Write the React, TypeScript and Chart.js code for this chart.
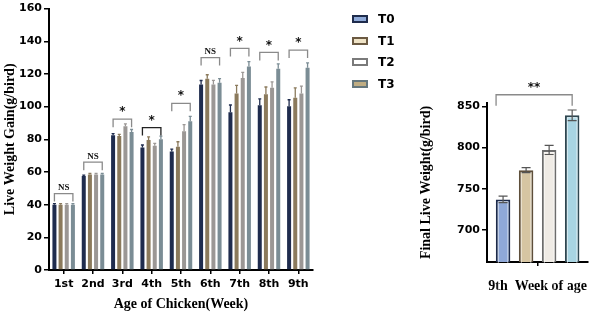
import React, { useEffect, useRef } from "react";
import { Chart, registerables } from "chart.js";

Chart.register(...registerables);

// Weekly live weight gain (g/bird) per treatment
const weeks = ["1st", "2nd", "3rd", "4th", "5th", "6th", "7th", "8th", "9th"];
const groups = ["T0", "T1", "T2", "T3"];
const gainT0 = [40, 57.5, 82.5, 75, 72.5, 113.5, 96.5, 100.8, 100.2];
const gainT1 = [40, 58.5, 82, 79.5, 75.5, 117, 108, 107.5, 105.5];
const gainT2 = [40, 58.5, 88, 76, 85, 113.6, 117.5, 111.6, 108];
const gainT3 = [40, 58.5, 84.5, 80, 91, 114.6, 124.5, 123.2, 123.8];
const gainErrT0 = [0.6, 0.6, 1, 1.5, 1.5, 2.5, 4.5, 4, 4];
const gainErrT1 = [0.6, 0.6, 1, 2, 3, 2.5, 5, 4.5, 6];
const gainErrT2 = [0.6, 0.6, 1.5, 1.5, 4, 2.5, 3.5, 3.5, 4.5];
const gainErrT3 = [0.6, 0.6, 1.5, 2, 3, 2.5, 3, 3, 3];
const gainTicks = [0, 20, 40, 60, 80, 100, 120, 140, 160];
// significance marks and bracket levels per week
const gainSig = ["NS", "NS", "*", "*", "*", "NS", "*", "*", "*"];
const gainBracket = [46.8, 66, 92.3, 87.2, 102, 130, 135.6, 133.2, 134.6];
const gainBracketDark = [false, false, false, true, false, false, false, false, false];

// Final live weight (g/bird) at the 9th week
const finalLabel = ["9th  Week of age"];
const finalWeight = [737, 772.5, 797, 839];
const finalErr = [4, 3, 5.5, 6.5];
const finalTicks = [700, 750, 800, 850];
const finalSig = "**";
const finalBracket = 864;

const gainColors = ["#1f2c4e", "#8b7a5c", "#9b9795", "#7b8d95"];
const finalFill = ["#8fa8d8", "#d6c5a2", "#efebe5", "#a8d4e2"];
const finalBorder = ["#1d2a4a", "#5e4f3b", "#6c6c6c", "#2f4650"];
const legendBorder = ["#1f2c4c", "#6b5a42", "#7a7a7a", "#66777d"];
const legendFill = ["#8faad8", "#efe3c6", "#ffffff", "#c0ad83"];

const tickFont = { family: "'DejaVu Sans', sans-serif", size: 11, weight: "bold" as const };
const titleFont = { family: "'Liberation Serif', serif", size: 14, weight: "bold" as const };

function makeErrorBars(cap: number, both: boolean, width: number) {
  return {
    id: "errorBars",
    afterDatasetsDraw(chart: any) {
      const { ctx } = chart;
      const y = chart.scales.y;
      chart.data.datasets.forEach((ds: any, di: number) => {
        const meta = chart.getDatasetMeta(di);
        meta.data.forEach((bar: any, i: number) => {
          const v = ds.data[i];
          const e = ds.errors[i];
          const top = y.getPixelForValue(v + e);
          const bot = y.getPixelForValue(both ? v - e : v);
          ctx.save();
          ctx.strokeStyle = ds.errorColor;
          ctx.lineWidth = width;
          ctx.beginPath();
          ctx.moveTo(bar.x, top);
          ctx.lineTo(bar.x, bot);
          ctx.moveTo(bar.x - cap / 2, top);
          ctx.lineTo(bar.x + cap / 2, top);
          if (both) {
            ctx.moveTo(bar.x - cap / 2, bot);
            ctx.lineTo(bar.x + cap / 2, bot);
          }
          ctx.stroke();
          ctx.restore();
        });
      });
    },
  };
}

function makeBrackets(
  levels: number[],
  marks: string[],
  dark: boolean[],
  tail: number,
  leftShift: number
) {
  return {
    id: "brackets",
    afterDraw(chart: any) {
      const { ctx } = chart;
      const y = chart.scales.y;
      const first = chart.getDatasetMeta(0);
      const last = chart.getDatasetMeta(chart.data.datasets.length - 1);
      levels.forEach((lvl, i) => {
        const x1 = first.data[i].x - leftShift;
        const x2 = last.data[i].x;
        const yy = y.getPixelForValue(lvl);
        ctx.save();
        ctx.strokeStyle = dark[i] ? "#222" : "#8a8a8a";
        ctx.lineWidth = 1.3;
        ctx.beginPath();
        ctx.moveTo(x1, yy + tail);
        ctx.lineTo(x1, yy);
        ctx.lineTo(x2, yy);
        ctx.lineTo(x2, yy + tail);
        ctx.stroke();
        ctx.fillStyle = "#111";
        ctx.textAlign = "center";
        const cx = (x1 + x2) / 2;
        if (marks[i] === "NS") {
          ctx.font = "bold 9px 'Liberation Serif', serif";
          ctx.textBaseline = "bottom";
          ctx.fillText("NS", cx, yy - 1);
        } else {
          ctx.font = "bold 12px 'DejaVu Sans', sans-serif";
          ctx.textBaseline = "middle";
          ctx.fillText(marks[i], cx, yy - 7);
        }
        ctx.restore();
      });
    },
  };
}

// thin light line inside each outlined bar of the final-weight chart
const innerLine = {
  id: "innerLine",
  afterDatasetsDraw(chart: any) {
    const { ctx } = chart;
    chart.data.datasets.forEach((_ds: any, di: number) => {
      chart.getDatasetMeta(di).data.forEach((bar: any) => {
        const half = bar.width / 2 - 2.5;
        ctx.save();
        ctx.strokeStyle = "rgba(255,255,255,0.55)";
        ctx.lineWidth = 1;
        ctx.strokeRect(bar.x - half, bar.y + 2.5, half * 2, bar.base - bar.y - 3.5);
        ctx.restore();
      });
    });
  },
};

function GainChart() {
  const ref = useRef<HTMLCanvasElement>(null);
  useEffect(() => {
    const series = [gainT0, gainT1, gainT2, gainT3];
    const errs = [gainErrT0, gainErrT1, gainErrT2, gainErrT3];
    const chart = new Chart(ref.current!, {
      type: "bar",
      data: {
        labels: weeks,
        datasets: groups.map((g, k) => ({
          label: g,
          data: series[k],
          errors: errs[k],
          errorColor: gainColors[k],
          backgroundColor: gainColors[k],
          borderWidth: 0,
          categoryPercentage: 0.84,
          barPercentage: 0.65,
        })) as any,
      },
      options: {
        animation: false,
        responsive: false,
        maintainAspectRatio: false,
        layout: { padding: { top: 8, right: 17, left: 0, bottom: 0 } },
        plugins: { legend: { display: false }, tooltip: { enabled: false } },
        scales: {
          x: {
            grid: { display: true, drawOnChartArea: false, drawTicks: true, tickLength: 4, offset: false, color: "#000", lineWidth: 1.5 },
            border: { color: "#000", width: 2 },
            ticks: { font: tickFont, color: "#000", padding: 4, maxRotation: 0 },
            title: { display: true, text: "Age of Chicken(Week)", font: titleFont, color: "#000", padding: { top: 0, bottom: 4 } },
            afterFit: (s: any) => { s.height = 47; },
          },
          y: {
            min: 0,
            max: 160,
            afterBuildTicks: (s: any) => { s.ticks = gainTicks.map((v) => ({ value: v })); },
            grid: { display: true, drawOnChartArea: false, drawTicks: true, tickLength: 5, color: "#000", lineWidth: 1.5 },
            border: { color: "#000", width: 2 },
            ticks: { font: tickFont, color: "#000", padding: 2 },
            title: { display: true, text: "Live Weight Gain(g/bird)", font: titleFont, color: "#000", padding: { top: 2, bottom: 0 } },
            afterFit: (s: any) => { s.width = 49; },
          },
        },
      },
      plugins: [makeErrorBars(3, false, 1.3), makeBrackets(gainBracket, gainSig, gainBracketDark, 8, 0)],
    });
    return () => chart.destroy();
  }, []);
  return <canvas ref={ref} width={330} height={317} style={{ position: "absolute", left: 0, top: 0 }} />;
}

function FinalChart() {
  const ref = useRef<HTMLCanvasElement>(null);
  useEffect(() => {
    const chart = new Chart(ref.current!, {
      type: "bar",
      data: {
        labels: finalLabel,
        datasets: groups.map((g, k) => ({
          label: g,
          data: [finalWeight[k]],
          errors: [finalErr[k]],
          errorColor: "#555",
          backgroundColor: finalFill[k],
          borderColor: finalBorder[k],
          borderWidth: 2,
          categoryPercentage: 0.91,
          barPercentage: 0.63,
        })) as any,
      },
      options: {
        animation: false,
        responsive: false,
        maintainAspectRatio: false,
        layout: { padding: { top: 103, right: 2, left: 0, bottom: 0 } },
        plugins: { legend: { display: false }, tooltip: { enabled: false } },
        scales: {
          x: {
            grid: { display: true, drawOnChartArea: false, drawTicks: true, tickLength: 4, offset: false, color: "#000", lineWidth: 1.5 },
            border: { color: "#000", width: 2 },
            ticks: { font: titleFont, color: "#000", padding: 12, maxRotation: 0 },
            afterFit: (s: any) => { s.height = 55; },
          },
          y: {
            min: 661,
            max: 854,
            afterBuildTicks: (s: any) => { s.ticks = finalTicks.map((v) => ({ value: v })); },
            grid: { display: true, drawOnChartArea: false, drawTicks: true, tickLength: 5, color: "#000", lineWidth: 1.5 },
            border: { color: "#000", width: 2 },
            ticks: { font: tickFont, color: "#000", padding: 2 },
            title: { display: true, text: "Final Live Weight(g/bird)", font: titleFont, color: "#000", padding: { top: 18, bottom: 0 } },
            afterFit: (s: any) => { s.width = 87; },
          },
        },
      },
      plugins: [innerLine, makeErrorBars(9, true, 1.2), makeBrackets([finalBracket], [finalSig], [false], 11, 7)],
    });
    return () => chart.destroy();
  }, []);
  return <canvas ref={ref} width={200} height={317} style={{ position: "absolute", left: 400, top: 0 }} />;
}

function Legend() {
  return (
    <div style={{ position: "absolute", left: 352, top: 8 }}>
      {groups.map((g, k) => (
        <div key={g} style={{ position: "absolute", left: 0, top: k * 21.7, height: 22, width: 60 }}>
          <div
            style={{
              position: "absolute",
              left: 0,
              top: 7,
              width: 16,
              height: 8,
              boxSizing: "border-box",
              border: `2px solid ${legendBorder[k]}`,
              background: legendFill[k],
            }}
          />
          <div
            style={{
              position: "absolute",
              left: 26,
              top: 3,
              font: "bold 12px 'DejaVu Sans', sans-serif",
              lineHeight: "16px",
              color: "#000",
            }}
          >
            {g}
          </div>
        </div>
      ))}
    </div>
  );
}

export default function App() {
  return (
    <div style={{ position: "fixed", left: 0, top: 0, width: 600, height: 317, background: "#fff", overflow: "hidden" }}>
      <GainChart />
      <FinalChart />
      <Legend />
    </div>
  );
}
